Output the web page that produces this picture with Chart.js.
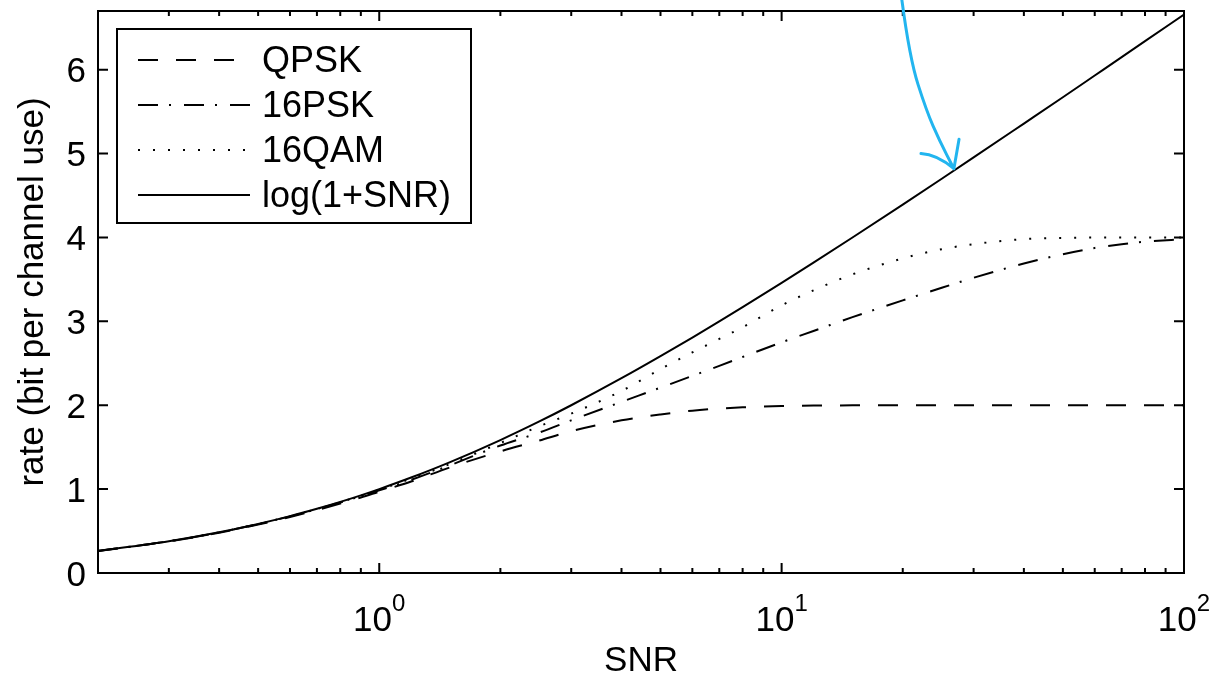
<!DOCTYPE html>
<html>
<head>
<meta charset="utf-8">
<script src="https://cdn.jsdelivr.net/npm/chart.js@4.4.1/dist/chart.umd.min.js"></script>
<style>
  body { margin: 0; background: #fff; }
  canvas { display: block; }
</style>
</head>
<body>
<canvas id="rateChart" width="1217" height="680"></canvas>
<script>
const snr = [0.2, 0.3, 0.4, 0.5, 0.6, 0.7, 0.8, 0.9, 1, 1.2, 1.5, 2, 2.5, 3, 4, 5, 6, 7, 8, 10, 12, 15, 20, 25, 30, 40, 50, 60, 70, 80, 100];
const qpsk = [0.262, 0.377, 0.481, 0.578, 0.667, 0.75, 0.828, 0.90, 0.97, 1.09, 1.26, 1.45, 1.58, 1.69, 1.82, 1.89, 1.935, 1.96, 1.975, 1.99, 1.996, 1.999, 2.0, 2.0, 2.0, 2.0, 2.0, 2.0, 2.0, 2.0, 2.0];
const psk16 = [0.263, 0.378, 0.484, 0.583, 0.675, 0.761, 0.841, 0.916, 0.985, 1.11, 1.285, 1.52, 1.675, 1.82, 2.04, 2.21, 2.35, 2.47, 2.575, 2.75, 2.885, 3.05, 3.25, 3.40, 3.52, 3.69, 3.80, 3.875, 3.92, 3.95, 3.98];
const qam16 = [0.263, 0.379, 0.485, 0.584, 0.677, 0.764, 0.845, 0.921, 0.993, 1.125, 1.30, 1.55, 1.75, 1.90, 2.17, 2.43, 2.63, 2.79, 2.93, 3.19, 3.37, 3.56, 3.75, 3.86, 3.92, 3.98, 3.995, 4.0, 4.0, 4.0, 4.0];
const gauss = [0.263, 0.379, 0.485, 0.585, 0.678, 0.766, 0.848, 0.926, 1.0, 1.138, 1.322, 1.585, 1.807, 2.0, 2.322, 2.585, 2.807, 3.0, 3.170, 3.459, 3.700, 4.0, 4.392, 4.700, 4.954, 5.358, 5.672, 5.931, 6.150, 6.340, 6.658];

const labels = ['QPSK', '16PSK', '16QAM', 'log(1+SNR)'];
const dashes = [[20, 18], [20, 11, 2, 13], [2, 13], []];

const xMajor = [1, 10, 100];
const xExp = ['0', '1', '2'];
const xMinor = [0.2, 0.3, 0.4, 0.5, 0.6, 0.7, 0.8, 0.9, 2, 3, 4, 5, 6, 7, 8, 9, 20, 30, 40, 50, 60, 70, 80, 90];
const yTicks = [0, 1, 2, 3, 4, 5, 6];

// hand drawn arrow pointing at the capacity curve
const arrowSnr = [19.9, 20.8, 22.9, 24.7, 26.8];
const arrowRate = [6.9, 6.14, 5.51, 5.15, 4.82];
const barbSnr = [22.2, 24.3, 26.8, 27.6];
const barbRate = [5.0, 4.99, 4.82, 5.17];

const FONT = '"Liberation Sans", Arial, sans-serif';

function points(vals) {
    return snr.map((s, i) => ({ x: s, y: vals[i] }));
}

const series = [qpsk, psk16, qam16, gauss];

const frame = {
    id: 'frame',
    afterDraw(chart) {
        const ctx = chart.ctx;
        const a = chart.chartArea;
        const x = chart.scales.x;
        const y = chart.scales.y;
        ctx.save();
        ctx.strokeStyle = '#000';
        ctx.lineWidth = 2;
        ctx.setLineDash([]);
        ctx.strokeRect(a.left, a.top, a.right - a.left, a.bottom - a.top);

        ctx.beginPath();
        xMinor.forEach(v => {
            const px = x.getPixelForValue(v);
            ctx.moveTo(px, a.bottom); ctx.lineTo(px, a.bottom - 5);
            ctx.moveTo(px, a.top); ctx.lineTo(px, a.top + 5);
        });
        xMajor.forEach(v => {
            const px = x.getPixelForValue(v);
            ctx.moveTo(px, a.bottom); ctx.lineTo(px, a.bottom - 10);
            ctx.moveTo(px, a.top); ctx.lineTo(px, a.top + 10);
        });
        yTicks.forEach(v => {
            const py = y.getPixelForValue(v);
            ctx.moveTo(a.left, py); ctx.lineTo(a.left + 10, py);
            ctx.moveTo(a.right, py); ctx.lineTo(a.right - 10, py);
        });
        ctx.stroke();

        ctx.fillStyle = '#000';
        ctx.font = '35px ' + FONT;
        ctx.textAlign = 'right';
        ctx.textBaseline = 'alphabetic';
        yTicks.forEach(v => {
            ctx.fillText(String(v), a.left - 12, y.getPixelForValue(v) + 12.5);
        });

        ctx.textAlign = 'left';
        xMajor.forEach((v, i) => {
            const px = x.getPixelForValue(v);
            ctx.font = '35px ' + FONT;
            const w1 = ctx.measureText('10').width;
            ctx.font = '24px ' + FONT;
            const w2 = ctx.measureText(xExp[i]).width;
            const start = px - (w1 + w2) / 2;
            ctx.font = '35px ' + FONT;
            ctx.fillText('10', start, a.bottom + 58);
            ctx.font = '24px ' + FONT;
            ctx.fillText(xExp[i], start + w1, a.bottom + 38);
        });

        ctx.font = '35px ' + FONT;
        ctx.textAlign = 'center';
        ctx.fillText('SNR', (a.left + a.right) / 2, a.bottom + 98);

        ctx.save();
        ctx.translate(43, (a.top + a.bottom) / 2);
        ctx.rotate(-Math.PI / 2);
        ctx.font = '35px ' + FONT;
        ctx.fillText('rate (bit per channel use)', 0, 0);
        ctx.restore();

        // legend
        ctx.fillStyle = '#fff';
        ctx.fillRect(117, 29, 354, 194);
        ctx.strokeRect(117, 29, 354, 194);
        ctx.font = '36px ' + FONT;
        ctx.textAlign = 'left';
        ctx.fillStyle = '#000';
        labels.forEach((t, i) => {
            const ly = 60 + i * 45;
            ctx.setLineDash(dashes[i]);
            ctx.beginPath();
            ctx.moveTo(138, ly);
            ctx.lineTo(250, ly);
            ctx.stroke();
            ctx.fillText(t, 262, ly + 12);
        });
        ctx.setLineDash([]);

        // arrow
        ctx.strokeStyle = '#22b5ef';
        ctx.lineWidth = 3;
        ctx.lineCap = 'round';
        ctx.lineJoin = 'round';
        const ap = arrowSnr.map((s, i) => [x.getPixelForValue(s), y.getPixelForValue(arrowRate[i])]);
        ctx.beginPath();
        ctx.moveTo(ap[0][0], 0);
        for (let i = 1; i < ap.length - 1; i++) {
            const mx = (ap[i][0] + ap[i + 1][0]) / 2;
            const my = (ap[i][1] + ap[i + 1][1]) / 2;
            ctx.quadraticCurveTo(ap[i][0], ap[i][1], mx, my);
        }
        ctx.lineTo(ap[ap.length - 1][0], ap[ap.length - 1][1]);
        const bp = barbSnr.map((s, i) => [x.getPixelForValue(s), y.getPixelForValue(barbRate[i])]);
        ctx.moveTo(bp[0][0], bp[0][1]);
        ctx.quadraticCurveTo(bp[1][0], bp[1][1], bp[2][0], bp[2][1]);
        ctx.lineTo(bp[3][0], bp[3][1]);
        ctx.stroke();
        ctx.restore();
    }
};

new Chart(document.getElementById('rateChart'), {
    type: 'line',
    data: {
        datasets: series.map((vals, i) => ({
            label: labels[i],
            data: points(vals),
            borderColor: '#000',
            borderWidth: 2,
            borderDash: dashes[i],
            pointRadius: 0,
            fill: false,
            cubicInterpolationMode: 'monotone'
        }))
    },
    options: {
        responsive: false,
        animation: false,
        devicePixelRatio: 1,
        layout: { padding: { left: 98, right: 33, top: 11, bottom: 107 } },
        plugins: { legend: { display: false }, tooltip: { enabled: false } },
        scales: {
            x: { type: 'logarithmic', min: 0.2, max: 100, display: false },
            y: { type: 'linear', min: 0, max: 6.7, display: false }
        }
    },
    plugins: [frame]
});
</script>
</body>
</html>
